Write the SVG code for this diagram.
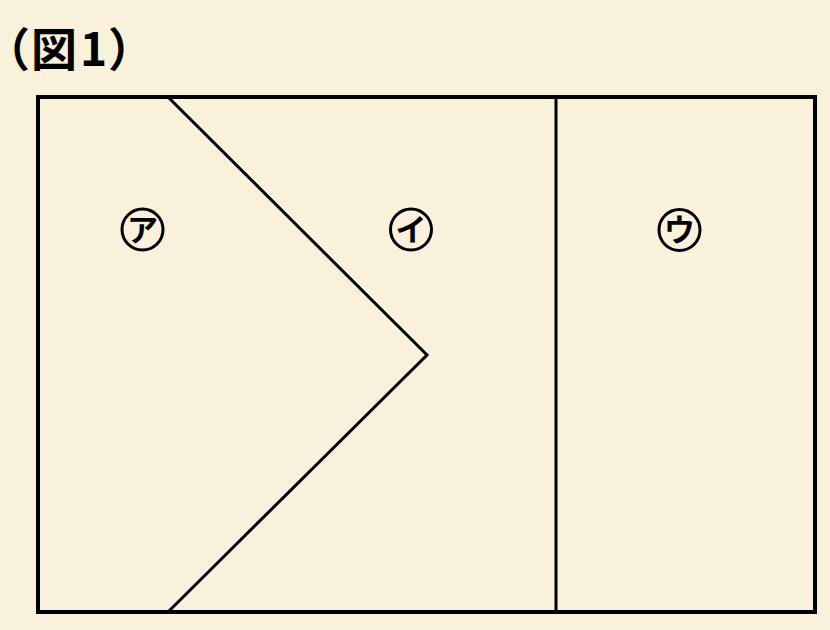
<svg xmlns="http://www.w3.org/2000/svg" width="830" height="630" viewBox="0 0 830 630">
<style>
.bg{fill:#faf1dc}
.frame{fill:none;stroke:#000;stroke-width:4}
.line{fill:none;stroke:#000;stroke-width:3;stroke-linejoin:miter}
.mark{fill:none;stroke:#000;stroke-width:3}
.lbl{font-family:"Noto Sans CJK JP",sans-serif;font-weight:bold;font-size:31px;text-anchor:middle;fill:#000}
.title{font-family:"Noto Sans CJK JP",sans-serif;font-weight:bold;font-size:46px;fill:#000;font-feature-settings:"palt";letter-spacing:3px}
</style>
<rect class="bg" x="0" y="0" width="830" height="630"/>
<text class="title" x="5" y="66">（図1）</text>
<g id="connectors">
<rect class="frame" x="38" y="97" width="777" height="515"/>
<polyline class="line" points="168,97 427,355 168,612"/>
<line class="line" x1="556" y1="97" x2="556" y2="612"/>
</g>
<g id="region-a">
<circle class="mark" cx="142.5" cy="229.5" r="20.5"/>
<text class="lbl" x="142.5" y="240.5">ア</text>
</g>
<g id="region-i">
<circle class="mark" cx="411" cy="229.5" r="20.5"/>
<text class="lbl" x="411" y="240.5">イ</text>
</g>
<g id="region-u">
<circle class="mark" cx="679.5" cy="230" r="20.5"/>
<text class="lbl" x="679.5" y="241">ウ</text>
</g>
</svg>
